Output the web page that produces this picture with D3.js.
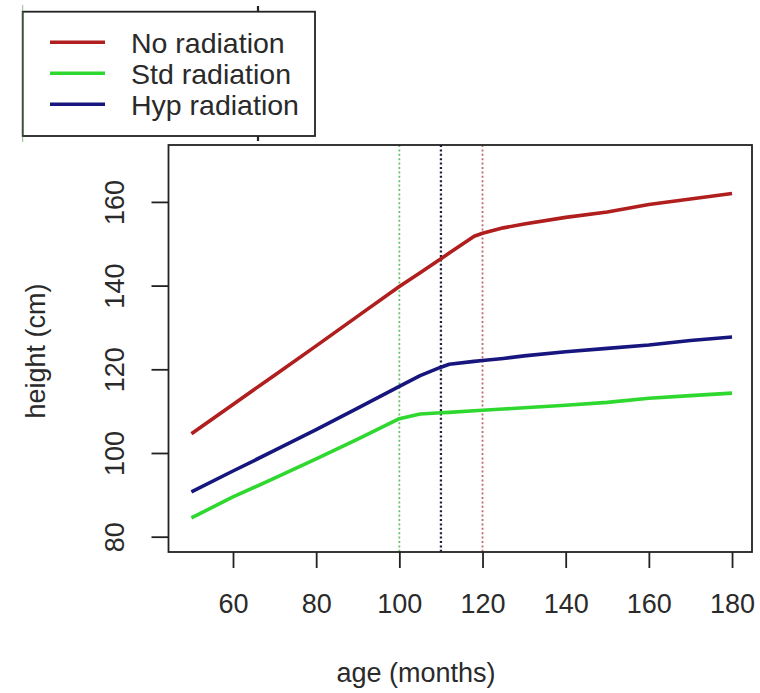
<!DOCTYPE html>
<html>
<head>
<meta charset="utf-8">
<script src="https://cdn.jsdelivr.net/npm/d3@7"></script>
<style>
  html, body { margin: 0; padding: 0; background: #fff; }
  svg { display: block; }
  text { font-family: "Liberation Sans", Arial, sans-serif; fill: #2a2a2a; }
</style>
</head>
<body>
<svg id="chart" width="760" height="693"></svg>
<script>
// ---- data ----
const ages = [50, 60, 70, 80, 90, 100, 105, 110, 112, 118, 120, 125, 130, 140, 150, 160, 170, 180];
const noRadiation  = [104.6, 111.6, 118.6, 125.6, 132.7, 139.8, 143.1, 146.4, 147.8, 151.8, 152.5, 153.8, 154.7, 156.3, 157.6, 159.4, 160.7, 162.0];
const stdRadiation = [84.5, 89.5, 94.0, 98.6, 103.3, 108.2, 109.3, 109.6, 109.7, 110.1, 110.2, 110.5, 110.8, 111.4, 112.1, 113.1, 113.7, 114.3];
const hypRadiation = [90.7, 95.7, 100.6, 105.6, 110.7, 115.9, 118.5, 120.5, 121.2, 121.9, 122.1, 122.6, 123.2, 124.2, 125.0, 125.8, 126.9, 127.7];
const seriesNames  = ["No radiation", "Std radiation", "Hyp radiation"];
const seriesColors = ["#b01e1e", "#2ed82e", "#16167e"];
const cutoffAges   = [100, 110, 120];
const cutoffColors = ["#6cbf6c", "#20203a", "#c46a6a"];
const xTicks = [60, 80, 100, 120, 140, 160, 180];
const yTicks = [80, 100, 120, 140, 160];
const xTitle = "age (months)";
const yTitle = "height (cm)";

// ---- layout ----
const svg = d3.select("#chart");
const L = 168.5, R = 752, T = 145, B = 552;
const x = d3.scaleLinear().domain([44.49, 184.8]).range([L, R]);
const y = d3.scaleLinear().domain([76.34, 173.6]).range([B, T]);

// cutoff dotted lines
svg.selectAll("line.cut").data(cutoffAges).enter().append("line")
  .attr("class", "cut")
  .attr("x1", d => x(d)).attr("x2", d => x(d))
  .attr("y1", T).attr("y2", B)
  .attr("stroke", (d, i) => cutoffColors[i])
  .attr("stroke-width", (d, i) => i === 1 ? 2.3 : 1.8)
  .attr("stroke-dasharray", "2,2.4");

// series lines
const allSeries = [noRadiation, stdRadiation, hypRadiation];
const line = d3.line().x((d, i) => x(ages[i])).y(d => y(d));
svg.selectAll("path.series").data(allSeries).enter().append("path")
  .attr("class", "series")
  .attr("d", d => line(d))
  .attr("fill", "none")
  .attr("stroke", (d, i) => seriesColors[i])
  .attr("stroke-width", 3.6)
  .attr("stroke-linejoin", "round")
  .attr("stroke-linecap", "butt");

// plot box
svg.append("rect").attr("x", L).attr("y", T).attr("width", R - L).attr("height", B - T)
  .attr("fill", "none").attr("stroke", "#222").attr("stroke-width", 1.8);

// x axis
const xAxis = d3.axisBottom(x).tickValues(xTicks).tickSize(16).tickPadding(26).tickSizeOuter(0);
const gx = svg.append("g").attr("transform", `translate(0,${B})`).call(xAxis);
gx.select(".domain").remove();
gx.selectAll(".tick line").attr("stroke", "#222").attr("stroke-width", 1.8);
gx.selectAll(".tick text").attr("font-size", 27).attr("fill", "#2a2a2a")
  .attr("font-family", "Liberation Sans, Arial, sans-serif");

// y axis
const yAxis = d3.axisLeft(y).tickValues(yTicks).tickSize(17).tickPadding(0).tickSizeOuter(0);
const gy = svg.append("g").attr("transform", `translate(${L},0)`).call(yAxis);
gy.select(".domain").remove();
gy.selectAll(".tick line").attr("stroke", "#222").attr("stroke-width", 1.8);
gy.selectAll(".tick text")
  .attr("font-size", 27).attr("fill", "#2a2a2a")
  .attr("font-family", "Liberation Sans, Arial, sans-serif")
  .attr("x", null).attr("dy", null)
  .attr("text-anchor", "middle")
  .attr("transform", `translate(${-45},0) rotate(-90)`);

// axis titles
svg.append("text").attr("x", 416).attr("y", 682).attr("text-anchor", "middle")
  .attr("font-size", 27).text(xTitle);
svg.append("text").attr("transform", "translate(45,351) rotate(-90)").attr("text-anchor", "middle")
  .attr("font-size", 27).text(yTitle);

// legend
const lg = svg.append("g");
lg.append("rect").attr("x", 22.7).attr("y", 11.7).attr("width", 292.3).attr("height", 124.3)
  .attr("fill", "#fff").attr("stroke", "#222").attr("stroke-width", 1.8);
const legendY = d3.scalePoint().domain(seriesNames).range([42.3, 104.3]);
seriesNames.forEach((n, i) => {
  lg.append("line").attr("x1", 50).attr("x2", 105)
    .attr("y1", legendY(n)).attr("y2", legendY(n))
    .attr("stroke", seriesColors[i]).attr("stroke-width", 3.4);
  lg.append("text").attr("x", 131).attr("y", legendY(n) + 11)
    .attr("font-size", 28.5).text(n);
});
// small marks around the legend seen in the image
[[258, 6, 258, 11.7], [258, 136, 258, 141]].forEach(s => {
  svg.append("line").attr("x1", s[0]).attr("y1", s[1]).attr("x2", s[2]).attr("y2", s[3])
    .attr("stroke", "#222").attr("stroke-width", 2.2);
});
svg.append("line").attr("x1", 22.7).attr("x2", 22.7).attr("y1", 5).attr("y2", 142)
  .attr("stroke", "#4a8a4a").attr("stroke-width", 1).attr("opacity", 0.6);
</script>
</body>
</html>
